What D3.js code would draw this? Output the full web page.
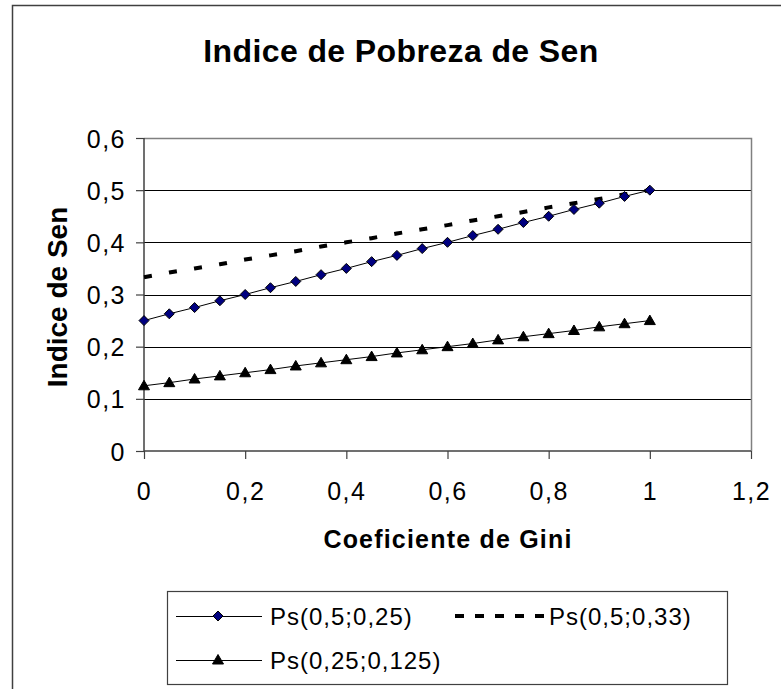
<!DOCTYPE html>
<html>
<head>
<meta charset="utf-8">
<script src="https://cdn.jsdelivr.net/npm/d3@7"></script>
<style>
  body { margin: 0; background: #fff; }
  svg { display: block; font-family: "Liberation Sans", Arial, sans-serif; }
</style>
</head>
<body>
<div id="graphic"></div>
<script>
var gini = [0, 0.05, 0.1, 0.15, 0.2, 0.25, 0.3, 0.35, 0.4, 0.45, 0.5, 0.55, 0.6, 0.65, 0.7, 0.75, 0.8, 0.85, 0.9, 0.95, 1];
var ps_05_025 = [0.25, 0.263, 0.275, 0.288, 0.3, 0.313, 0.325, 0.338, 0.35, 0.363, 0.375, 0.388, 0.4, 0.413, 0.425, 0.438, 0.45, 0.463, 0.475, 0.488, 0.5];
var ps_05_033 = [0.333, 0.342, 0.35, 0.358, 0.367, 0.375, 0.383, 0.392, 0.4, 0.408, 0.417, 0.425, 0.433, 0.442, 0.45, 0.458, 0.467, 0.475, 0.483, 0.492, 0.5];
var ps_025_0125 = [0.125, 0.131, 0.138, 0.144, 0.15, 0.156, 0.163, 0.169, 0.175, 0.181, 0.188, 0.194, 0.2, 0.206, 0.213, 0.219, 0.225, 0.231, 0.238, 0.244, 0.25];
var xTicks = [0, 0.2, 0.4, 0.6, 0.8, 1, 1.2];
var yTicks = [0, 0.1, 0.2, 0.3, 0.4, 0.5, 0.6];
var seriesNames = ["Ps(0,5;0,25)", "Ps(0,5;0,33)", "Ps(0,25;0,125)"];

var width = 781;
var height = 689;
var plotLeft = 144;
var plotRight = 751;
var plotTop = 138;
var plotBottom = 451;

var comma = function(v) { return String(v).replace(".", ","); };

var svg = d3.select("#graphic").append("svg")
  .attr("width", width)
  .attr("height", height);

// chart frame (runs past the window on the right and bottom)
svg.append("rect")
  .attr("x", 12.5).attr("y", 5.5)
  .attr("width", 800).attr("height", 720)
  .attr("fill", "#fff")
  .attr("stroke", "#404040")
  .attr("stroke-width", 1.5);

var xScale = d3.scaleLinear().domain([0, 1.2]).range([plotLeft, plotRight]);
var yScale = d3.scaleLinear().domain([0, 0.6]).range([plotBottom, plotTop]);

// gridlines
svg.append("g")
  .selectAll("line")
  .data(yTicks.slice(1, -1))
  .join("line")
  .attr("x1", plotLeft).attr("x2", plotRight)
  .attr("y1", function(d) { return Math.round(yScale(d)) + 0.5; })
  .attr("y2", function(d) { return Math.round(yScale(d)) + 0.5; })
  .attr("stroke", "#000")
  .attr("stroke-width", 1);

// plot border top/right
svg.append("path")
  .attr("d", "M" + plotLeft + "," + (plotTop + 0.5) + "H" + (plotRight + 0.5) + "V" + plotBottom)
  .attr("fill", "none")
  .attr("stroke", "#808080")
  .attr("stroke-width", 1.5);

// axes
var xAxis = d3.axisBottom(xScale)
  .tickValues(xTicks)
  .tickSize(8)
  .tickPadding(23)
  .tickFormat(comma);

var yAxis = d3.axisLeft(yScale)
  .tickValues(yTicks)
  .tickSize(8)
  .tickPadding(10)
  .tickFormat(comma);

var gx = svg.append("g")
  .attr("transform", "translate(0," + plotBottom + ")")
  .call(xAxis);

var gy = svg.append("g")
  .attr("transform", "translate(" + plotLeft + ",0)")
  .call(yAxis);

[gx, gy].forEach(function(g) {
  g.attr("font-size", 25).attr("font-family", "'Liberation Sans', Arial, sans-serif");
  g.select(".domain").attr("stroke", "#404040").attr("stroke-width", 1.5);
  g.selectAll(".tick line").attr("stroke", "#404040").attr("stroke-width", 1.2);
  g.selectAll(".tick text")
    .attr("fill", "#000")
    .attr("font-size", 25)
    .attr("letter-spacing", "1.5px");
});
gx.select(".domain").attr("d", "M" + plotLeft + ",0H" + plotRight);
gy.select(".domain").attr("d", "M0," + plotTop + "V" + plotBottom);
gy.selectAll(".tick text").attr("dy", "0.36em");

// titles
svg.append("text")
  .attr("x", 401).attr("y", 62)
  .attr("text-anchor", "middle")
  .style("font-size", "32px")
  .style("font-weight", "bold")
  .style("letter-spacing", "0.4px")
  .text("Indice de Pobreza de Sen");

svg.append("text")
  .attr("x", 448).attr("y", 548)
  .attr("text-anchor", "middle")
  .style("font-size", "25px")
  .style("font-weight", "bold")
  .style("letter-spacing", "1.2px")
  .text("Coeficiente de Gini");

svg.append("text")
  .attr("transform", "translate(67,297) rotate(-90)")
  .attr("text-anchor", "middle")
  .style("font-size", "28px")
  .style("font-weight", "bold")
  .text("Indice de Sen");

// series
var line = d3.line()
  .x(function(d) { return xScale(d[0]); })
  .y(function(d) { return yScale(d[1]); });

var pairs = function(values) { return gini.map(function(g, i) { return [g, values[i]]; }); };

var dataA = pairs(ps_05_025);
var dataB = pairs(ps_05_033);
var dataC = pairs(ps_025_0125);

svg.append("path").datum(dataB)
  .attr("d", line)
  .attr("fill", "none")
  .attr("stroke", "#000")
  .attr("stroke-width", 4)
  .attr("stroke-dasharray", "8,17.4");

svg.append("path").datum(dataA)
  .attr("d", line)
  .attr("fill", "none")
  .attr("stroke", "#000")
  .attr("stroke-width", 1);

svg.append("path").datum(dataC)
  .attr("d", line)
  .attr("fill", "none")
  .attr("stroke", "#000")
  .attr("stroke-width", 1);

var diamond = "M0,-5L5,0L0,5L-5,0Z";
var triangle = "M0,-5.5L5.5,4L-5.5,4Z";

svg.append("g").selectAll("path")
  .data(dataA)
  .join("path")
  .attr("transform", function(d) { return "translate(" + xScale(d[0]) + "," + yScale(d[1]) + ")"; })
  .attr("d", diamond)
  .attr("fill", "#000080")
  .attr("stroke", "#000")
  .attr("stroke-width", 1);

svg.append("g").selectAll("path")
  .data(dataC)
  .join("path")
  .attr("transform", function(d) { return "translate(" + xScale(d[0]) + "," + yScale(d[1]) + ")"; })
  .attr("d", triangle)
  .attr("fill", "#000")
  .attr("stroke", "#000")
  .attr("stroke-width", 1);

// legend
var legend = svg.append("g");
legend.append("rect")
  .attr("x", 167.5).attr("y", 591.5)
  .attr("width", 560).attr("height", 93)
  .attr("fill", "#fff")
  .attr("stroke", "#404040")
  .attr("stroke-width", 1.2);

var legendItems = [
  { name: seriesNames[0], x: 176, y: 616, kind: "diamond" },
  { name: seriesNames[1], x: 455, y: 616, kind: "dash" },
  { name: seriesNames[2], x: 176, y: 660, kind: "triangle" }
];

legendItems.forEach(function(item) {
  if (item.kind === "dash") {
    legend.append("line")
      .attr("x1", item.x).attr("x2", item.x + 90)
      .attr("y1", item.y).attr("y2", item.y)
      .attr("stroke", "#000")
      .attr("stroke-width", 4)
      .attr("stroke-dasharray", "9,11");
  } else {
    legend.append("line")
      .attr("x1", item.x).attr("x2", item.x + 86)
      .attr("y1", item.y + 0.5).attr("y2", item.y + 0.5)
      .attr("stroke", "#000")
      .attr("stroke-width", 1);
    legend.append("path")
      .attr("transform", "translate(" + (item.x + 42) + "," + item.y + ")")
      .attr("d", item.kind === "diamond" ? diamond : triangle)
      .attr("fill", item.kind === "diamond" ? "#000080" : "#000")
      .attr("stroke", "#000");
  }
  legend.append("text")
    .attr("x", item.x + 94)
    .attr("y", item.y + 9)
    .style("font-size", "24px")
    .style("letter-spacing", "1px")
    .text(item.name);
});
</script>
</body>
</html>
